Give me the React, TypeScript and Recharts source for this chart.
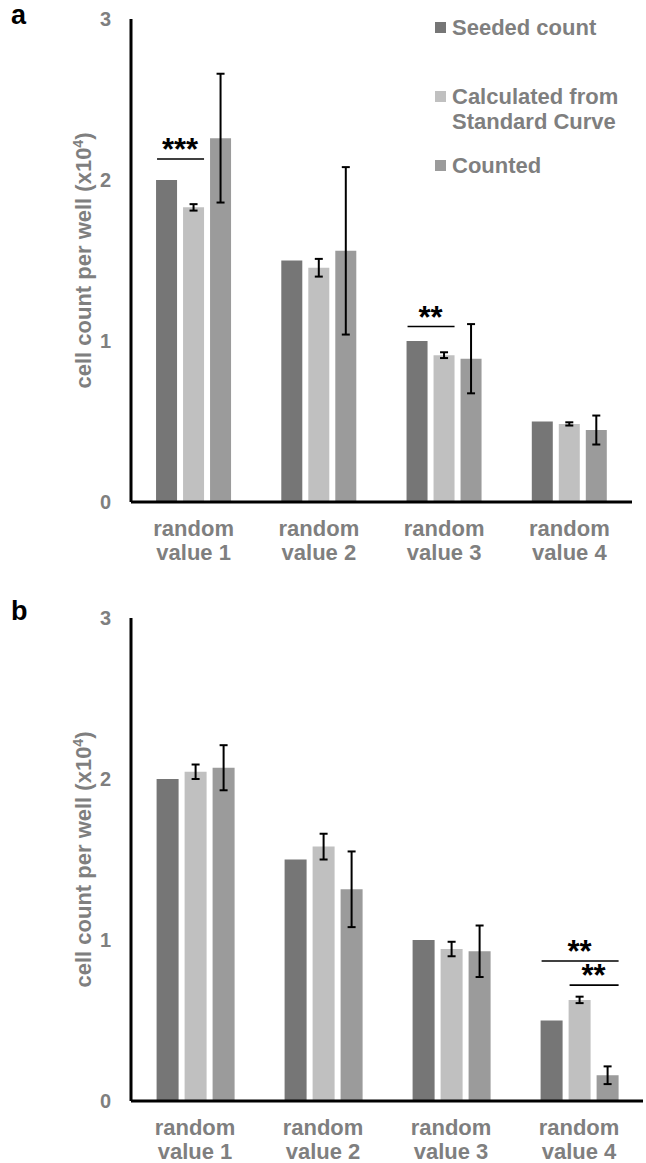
import { Bar, BarChart, ErrorBar, LabelList, Legend, XAxis, YAxis } from 'recharts'

// categories + series shared by both panels
const categories = ['random value 1', 'random value 2', 'random value 3', 'random value 4']
const seriesNames = ['Seeded count', 'Calculated from Standard Curve', 'Counted']
const seriesColors = ['#767676', '#c0c0c0', '#9b9b9b']
const yTicks = [0, 1, 2, 3]

// panel a
const seededA = [2.0, 1.5, 1.0, 0.5]
const calcA = [1.83, 1.455, 0.912, 0.485]
const calcErrA = [0.02, 0.055, 0.018, 0.01]
const countedA = [2.26, 1.56, 0.89, 0.447]
const countedErrA = [0.4, 0.52, 0.215, 0.09]

// panel b
const seededB = [2.0, 1.5, 1.0, 0.5]
const calcB = [2.045, 1.58, 0.944, 0.628]
const calcErrB = [0.045, 0.08, 0.045, 0.02]
const countedB = [2.07, 1.315, 0.93, 0.16]
const countedErrB = [0.14, 0.235, 0.16, 0.055]

// significance brackets: category index, first / last series index, height (x10^4), stars
const sigA = [
  { cat: 0, from: 0, to: 1, level: 2.13, text: '***' },
  { cat: 2, from: 0, to: 1, level: 1.09, text: '**' },
]
const sigB = [
  { cat: 3, from: 0, to: 2, level: 0.87, text: '**' },
  { cat: 3, from: 1, to: 2, level: 0.72, text: '**' },
]

const FONT = '"Liberation Sans", Arial, sans-serif'
const TEXT = '#7f7f7f'
const BAR_GAP = 6

type Sig = { cat: number; from: number; to: number; level: number; text: string }

function buildRows(seeded: number[], calc: number[], calcErr: number[], counted: number[], countedErr: number[]) {
  return categories.map((name, i) => ({
    name,
    seeded: seeded[i],
    calc: calc[i],
    calcErr: calcErr[i],
    counted: counted[i],
    countedErr: countedErr[i],
  }))
}

const rowsA = buildRows(seededA, calcA, calcErrA, countedA, countedErrA)
const rowsB = buildRows(seededB, calcB, calcErrB, countedB, countedErrB)

// draws the bracket + stars above the bars, using the bar's own pixel box
function bracketContent(sigs: Sig[], seriesIdx: number) {
  return (props: any) => {
    const vb = props.viewBox || props
    const { x, y, width, height } = vb
    const val = Number(props.value)
    const items = sigs.filter((s) => s.cat === props.index && s.from === seriesIdx)
    if (!items.length || !val) return null
    return (
      <g>
        {items.map((s, k) => {
          const lineY = y + height - (s.level * height) / val
          const n = s.to - s.from
          const x2 = x + (n + 1) * width + n * BAR_GAP
          return (
            <g key={k}>
              <line x1={x + 1} x2={x2} y1={lineY} y2={lineY} stroke="#000" strokeWidth={1.6} />
              <text
                x={(x + x2) / 2}
                y={lineY + 1}
                textAnchor="middle"
                fontFamily={FONT}
                fontWeight={700}
                fontSize={31}
                fill="#000"
              >
                {s.text}
              </text>
            </g>
          )
        })}
      </g>
    )
  }
}

function CategoryTick({ x, y, payload }: any) {
  const [first, ...rest] = String(payload.value).split(' ')
  return (
    <text x={x} y={y} textAnchor="middle" fill={TEXT} fontFamily={FONT} fontWeight={700} fontSize={22}>
      <tspan x={x} dy={34}>{first}</tspan>
      <tspan x={x} dy={24}>{rest.join(' ')}</tspan>
    </text>
  )
}

function YLabel({ viewBox }: any) {
  const cx = viewBox.x + viewBox.width - 40
  const cy = viewBox.y + viewBox.height / 2
  return (
    <text
      x={cx}
      y={cy}
      transform={`rotate(-90 ${cx} ${cy})`}
      textAnchor="middle"
      fill={TEXT}
      fontFamily={FONT}
      fontWeight={700}
      fontSize={22}
    >
      cell count per well (x10
      <tspan dy={-8} fontSize={14}>4</tspan>
      <tspan dy={8} fontSize={22}>)</tspan>
    </text>
  )
}

function LegendContent({ payload }: any) {
  // keep the series order, not the alphabetical one
  const items = [...(payload || [])].sort(
    (a: any, b: any) => seriesNames.indexOf(a.value) - seriesNames.indexOf(b.value),
  )
  return (
    <div style={{ width: 205, fontFamily: FONT, fontSize: 22, fontWeight: 700, color: TEXT }}>
      {items.map((p: any, i: number) => (
        <div
          key={p.value}
          style={{ display: 'flex', alignItems: 'flex-start', lineHeight: '25px', marginBottom: i === 0 ? 44 : 19 }}
        >
          <span
            style={{ width: 11, height: 11, background: p.color, marginTop: 7, marginRight: 6, flex: 'none' }}
          />
          <span>{p.value}</span>
        </div>
      ))}
    </div>
  )
}

function Panel({
  rows,
  sigs,
  height,
  margin,
  showLegend,
}: {
  rows: any[]
  sigs: Sig[]
  height: number
  margin: { top: number; right: number; bottom: number; left: number }
  showLegend?: boolean
}) {
  const keys = ['seeded', 'calc', 'counted']
  return (
    <BarChart width={646} height={height} data={rows} margin={margin} barCategoryGap="20%" barGap={BAR_GAP}>
      <XAxis
        dataKey="name"
        interval={0}
        height={50}
        tickLine={false}
        tickSize={0}
        tickMargin={0}
        axisLine={{ stroke: '#000', strokeWidth: 3 }}
        tick={<CategoryTick />}
      />
      <YAxis
        width={60}
        domain={[0, 3]}
        ticks={yTicks}
        tickLine={false}
        tickSize={0}
        tickMargin={20}
        axisLine={{ stroke: '#000', strokeWidth: 3 }}
        tick={{ fill: TEXT, fontFamily: FONT, fontWeight: 700, fontSize: 20 }}
        label={(props: any) => <YLabel {...props} />}
      />
      {showLegend && (
        <Legend
          layout="vertical"
          align="center"
          verticalAlign="middle"
          wrapperStyle={{ left: 435, top: 15 }}
          content={<LegendContent />}
        />
      )}
      {keys.map((k, i) => (
        <Bar key={k} dataKey={k} name={seriesNames[i]} fill={seriesColors[i]} isAnimationActive={false}>
          {k !== 'seeded' && (
            <ErrorBar dataKey={`${k}Err`} width={4} stroke="#000" strokeWidth={2} isAnimationActive={false} />
          )}
          <LabelList dataKey={k} content={bracketContent(sigs, i)} />
        </Bar>
      ))}
    </BarChart>
  )
}

const letterStyle: React.CSSProperties = {
  position: 'absolute',
  left: 11,
  fontFamily: FONT,
  fontWeight: 700,
  fontSize: 27,
  lineHeight: '30px',
  color: '#000',
}

export default function App() {
  return (
    <div style={{ position: 'absolute', left: 0, top: 0, width: 646, height: 1163, background: '#fff' }}>
      <div style={{ position: 'absolute', left: 0, top: 0 }}>
        <Panel rows={rowsA} sigs={sigA} height={580} margin={{ top: 19, right: 14, bottom: 28, left: 71 }} showLegend />
      </div>
      <div style={{ position: 'absolute', left: 0, top: 580 }}>
        <Panel rows={rowsB} sigs={sigB} height={583} margin={{ top: 38, right: 3, bottom: 12, left: 71 }} />
      </div>
      <div style={{ ...letterStyle, top: 0 }}>a</div>
      <div style={{ ...letterStyle, top: 596 }}>b</div>
    </div>
  )
}
